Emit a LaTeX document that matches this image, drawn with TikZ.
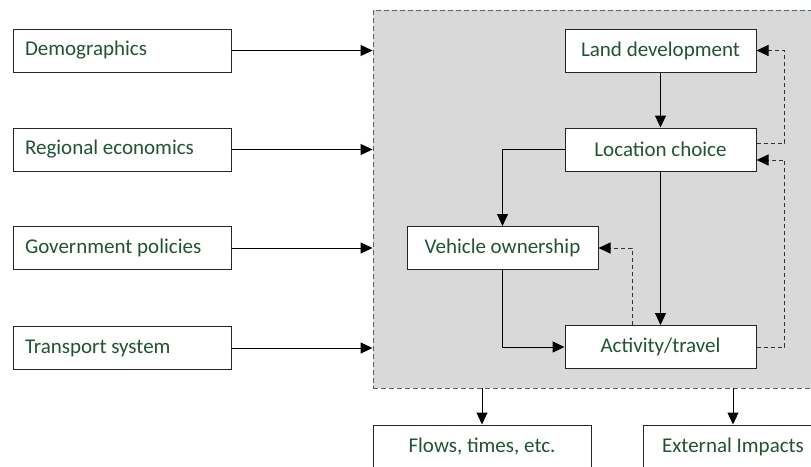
\documentclass[tikz,border=0pt]{standalone}
\usepackage{fontspec}
\setmainfont{Carlito}
\usetikzlibrary{arrows.meta}
\definecolor{txtgreen}{RGB}{33,84,52}
\definecolor{sysborder}{RGB}{70,110,82}
\definecolor{sysfill}{RGB}{217,217,217}
\definecolor{dashline}{RGB}{50,50,50}
\begin{document}
\begin{tikzpicture}[x=1pt,y=-1pt,
  every node/.style={font=\fontsize{21}{25}\selectfont, text=txtgreen},
  inbox/.style={draw=black!85, fill=white, line width=1pt, text width=194pt, inner xsep=12pt, inner ysep=0pt, minimum height=43pt, align=flush left},
  cbox/.style={draw=black!85, fill=white, line width=1pt, minimum width=191pt, inner sep=0pt, minimum height=43pt},
  sysbox/.style={draw=sysborder, fill=sysfill, dashed, dash pattern=on 5pt off 3pt, line width=0.9pt, inner sep=0pt},
  arr/.style={-{Triangle[length=12pt,width=11pt]}, line width=1pt, draw=black},
  darr/.style={-{Triangle[length=12pt,width=11pt,color=black]}, line width=1pt, draw=dashline, dash pattern=on 4pt off 3pt}
]
\clip (0,0) rectangle (811,466);
\fill[white] (0,0) rectangle (811,466);
\node[sysbox, minimum width=447pt, minimum height=378pt] (sys) at (596.5,199) {};

\node[inbox] (demo) at (122,50.5) {Demographics};
\node[inbox] (reg) at (122,149.5) {Regional economics};
\node[inbox] (gov) at (122,248) {Government policies};
\node[inbox] (trans) at (122,348) {Transport system};

\node[cbox] (land) at (660.5,50.5) {Land development};
\node[cbox] (loc) at (660.5,149.5) {Location choice};
\node[cbox] (veh) at (502.5,248) {Vehicle ownership};
\node[cbox] (act) at (660.5,347) {Activity/travel};

\node[cbox, minimum width=218pt] (flows) at (482,446.5) {Flows, times, etc.};
\node[cbox, minimum width=180pt] (ext) at (733,446.5) {External Impacts};

\draw[arr] (demo.east) -- (sys.west |- demo.east);
\draw[arr] (reg.east) -- (sys.west |- reg.east);
\draw[arr] (gov.east) -- (sys.west |- gov.east);
\draw[arr] (trans.east) -- (sys.west |- trans.east);

\draw[arr] (land.south) -- (loc.north);
\draw[arr] (loc.west) -| (veh.north);
\draw[arr] (loc.south) -- (act.north);
\draw[arr] (veh.south) |- (act.west);

\draw[darr] ([xshift=-28.5pt]act.north) |- (veh.east);
\coordinate (r1) at ([xshift=28pt]act.east);
\draw[darr] (act.east) -- (r1) |- ([yshift=-10.5pt]loc.east);
\coordinate (r2) at ([xshift=28pt,yshift=6.5pt]loc.east);
\draw[darr] ([yshift=6.5pt]loc.east) -- (r2) |- (land.east);

\draw[arr] (sys.south -| flows.north) -- (flows.north);
\draw[arr] (sys.south -| ext.north) -- (ext.north);
\end{tikzpicture}
\end{document}
